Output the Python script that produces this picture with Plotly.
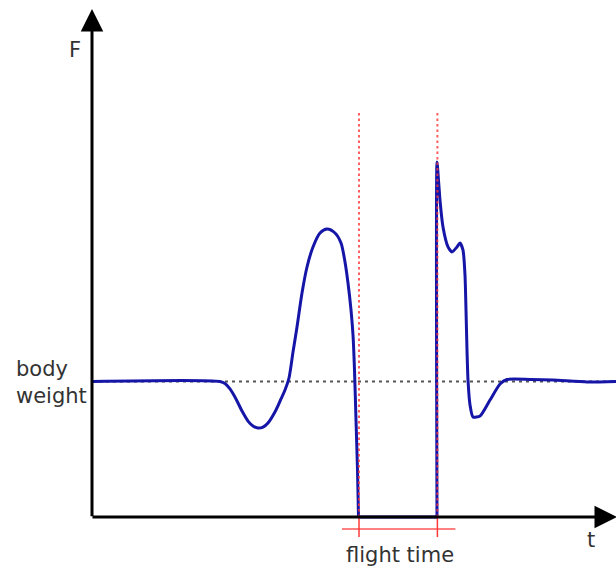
import plotly.graph_objects as go

# ---- data (t in s, F in units of body weight) ----
t_stance = [0.0, 0.64, 0.665, 0.69, 0.72, 0.75, 0.78, 0.805, 0.83, 0.855, 0.88, 0.92, 0.945,
            0.965, 0.985, 1.005, 1.025, 1.05, 1.075, 1.105, 1.14, 1.175, 1.215, 1.245, 1.265,
            1.28, 1.295, 1.305, 1.3125, 1.32, 1.3275, 1.3325]
f_stance = [1.0, 1.0, 0.985, 0.945, 0.871, 0.782, 0.708, 0.672, 0.657, 0.664, 0.694, 0.790, 0.871,
            0.937, 1.026, 1.218, 1.402, 1.653, 1.845, 1.993, 2.096, 2.125, 2.096, 2.022, 1.882,
            1.727, 1.528, 1.343, 1.085, 0.716, 0.347, 0.0]
t_flight = [1.3325, 1.725]
f_flight = [0.0, 0.0]
t_landing = [1.725, 1.725, 1.7325, 1.74, 1.755, 1.78, 1.80, 1.825, 1.84, 1.855, 1.865,
             1.87, 1.875, 1.88, 1.89, 1.905, 1.94, 1.99, 2.04, 2.075, 2.19, 2.305, 2.475, 2.62]
f_landing = [0.0, 2.62, 2.487, 2.339, 2.140, 1.993, 1.956, 1.993, 2.022, 1.970, 1.786,
             1.528, 1.232, 1.011, 0.827, 0.738, 0.745, 0.863, 0.982, 1.015, 1.015, 1.011, 0.996, 1.0]
body_weight = 1.0
takeoff_time = 1.335
landing_time = 1.727
labels = {"force": "F", "time": "t", "bw": "body<br>weight", "flight": "flight time"}

X_RANGE = [-0.46, 2.62]
Y_RANGE = [-0.3764, 3.8155]
BLUE = "#1515a8"
RED = "#ff3838"
TXT = "#333333"
FONT = "DejaVu Sans"

fig = go.Figure()

# body weight reference (dotted)
fig.add_trace(go.Scatter(x=[0, X_RANGE[1]], y=[body_weight, body_weight], mode="lines",
                         line=dict(color="#555555", width=2, dash="3px,4px"), hoverinfo="skip"))

# force curve
fig.add_trace(go.Scatter(x=t_stance, y=f_stance, mode="lines",
                         line=dict(color=BLUE, width=3, shape="spline", smoothing=0.8), hoverinfo="skip"))
fig.add_trace(go.Scatter(x=t_flight, y=f_flight, mode="lines",
                         line=dict(color=BLUE, width=3), hoverinfo="skip"))
fig.add_trace(go.Scatter(x=t_landing, y=f_landing, mode="lines",
                         line=dict(color=BLUE, width=3, shape="spline", smoothing=0.6), hoverinfo="skip"))

# red dotted markers at takeoff and landing
for tt in (takeoff_time, landing_time):
    fig.add_trace(go.Scatter(x=[tt, tt], y=[0, 3.0], mode="lines",
                             line=dict(color=RED, width=2, dash="2.5px,3px"), opacity=0.8, hoverinfo="skip"))
    fig.add_trace(go.Scatter(x=[tt, tt], y=[0, -0.148], mode="lines",
                             line=dict(color=RED, width=1.5), hoverinfo="skip"))
fig.add_trace(go.Scatter(x=[takeoff_time - 0.085, landing_time + 0.09], y=[-0.0886, -0.0886], mode="lines",
                         line=dict(color=RED, width=1.5), opacity=0.85, hoverinfo="skip"))

annotations = [
    # axes with arrows
    dict(x=0, y=3.75, ax=0, ay=-0.005, xref="x", yref="y", axref="x", ayref="y", text="",
         showarrow=True, arrowhead=2, arrowwidth=3, arrowsize=1.5, arrowcolor="black"),
    dict(x=2.625, y=0, ax=-0.005, ay=0, xref="x", yref="y", axref="x", ayref="y", text="",
         showarrow=True, arrowhead=2, arrowwidth=3, arrowsize=1.5, arrowcolor="black"),
    dict(x=-0.0875, y=3.443, xref="x", yref="y", text=labels["force"], showarrow=False,
         font=dict(family=FONT, size=21, color=TXT)),
    dict(x=2.495, y=-0.170, xref="x", yref="y", text=labels["time"], showarrow=False,
         font=dict(family=FONT, size=21, color=TXT)),
    dict(x=-0.39, y=0.99, xref="x", yref="y", text=labels["bw"], showarrow=False,
         xanchor="left", align="left", font=dict(family=FONT, size=21, color=TXT)),
    dict(x=1.54, y=-0.280, xref="x", yref="y", text=labels["flight"], showarrow=False,
         font=dict(family=FONT, size=21, color=TXT)),
]

fig.update_layout(
    width=616, height=568, margin=dict(l=0, r=0, t=0, b=0),
    paper_bgcolor="white", plot_bgcolor="white", showlegend=False,
    xaxis=dict(range=X_RANGE, visible=False, fixedrange=True),
    yaxis=dict(range=Y_RANGE, visible=False, fixedrange=True),
    annotations=annotations,
)

fig.write_html("out.html", config={"displayModeBar": False},
               post_script="document.body.style.margin='0px';")
